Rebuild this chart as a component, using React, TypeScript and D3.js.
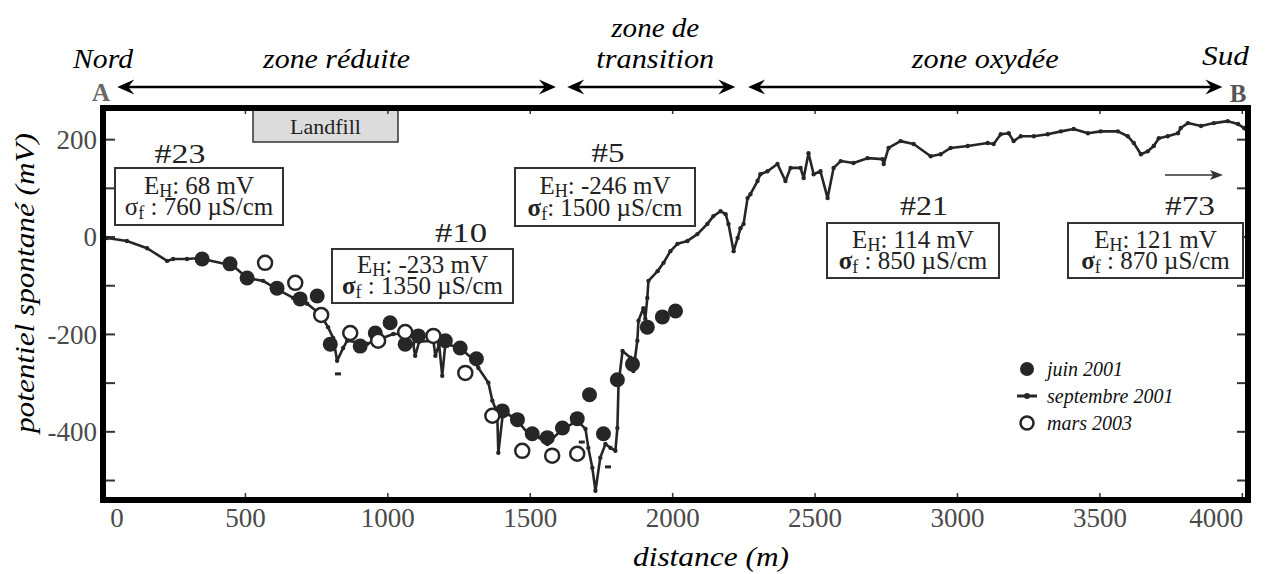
import React from "react";
import * as d3 from "d3";

// septembre 2001 : profil continu
const septDist = [
  0, 14, 84, 155, 225, 246, 295, 341, 351, 457,
  506, 562, 611, 668, 717, 762, 790, 808, 822, 843,
  857, 928, 1019, 1044, 1089, 1096, 1110, 1160, 1167, 1180,
  1191, 1202, 1254, 1297, 1318, 1353, 1367, 1384, 1388, 1405,
  1455, 1490, 1535, 1560, 1606, 1665, 1694, 1704, 1718, 1729,
  1746, 1764, 1782, 1799, 1806, 1810, 1824, 1852, 1862, 1876,
  1880, 1897, 1904, 1911, 1915, 1947, 1968, 1992, 2017, 2052,
  2087, 2122, 2143, 2168, 2186, 2196, 2214, 2228, 2238, 2249,
  2263, 2273, 2298, 2308, 2333, 2368, 2396, 2414, 2449, 2460,
  2477, 2495, 2519, 2544, 2565, 2590, 2635, 2684, 2737, 2741,
  2758, 2800, 2846, 2906, 2941, 2976, 3036, 3106, 3127, 3152,
  3180, 3197, 3222, 3268, 3317, 3363, 3408, 3458, 3503, 3563,
  3598, 3619, 3644, 3668, 3689, 3707, 3738, 3774, 3784, 3809,
  3855, 3900, 3949, 3985, 4006, 4020,
];
const septSP = [
  0, -2, -8, -23, -49, -45, -45, -43, -45, -59,
  -84, -90, -107, -125, -137, -158, -185, -207, -254, -228,
  -213, -219, -199, -199, -219, -244, -215, -213, -244, -220,
  -285, -219, -228, -250, -269, -299, -336, -361, -443, -357,
  -377, -402, -412, -425, -398, -377, -394, -433, -474, -521,
  -453, -425, -433, -439, -392, -302, -234, -248, -275, -213,
  -172, -146, -168, -125, -90, -70, -53, -29, -14, -8,
  6, 27, 43, 53, 47, 27, -29, -2, 18, 27,
  80, 88, 115, 129, 135, 150, 115, 142, 142, 121,
  172, 129, 135, 80, 142, 156, 152, 162, 160, 150,
  183, 197, 191, 166, 170, 183, 187, 193, 191, 211,
  213, 197, 207, 207, 211, 217, 222, 213, 217, 217,
  207, 193, 170, 176, 187, 203, 207, 213, 224, 234,
  228, 234, 238, 232, 224, 213,
];
// points isolés de septembre 2001
const septStrayDist = [825, 1681, 1773];
const septStraySP = [-281, -421, -472];

// juin 2001
const juinDist = [348, 446, 506, 611, 692, 752, 798, 903, 956, 1008, 1061, 1107, 1202, 1254, 1311, 1402, 1455, 1507, 1560, 1613, 1665, 1708, 1757, 1806, 1859, 1911, 1964, 2010];
const juinSP = [-45, -55, -84, -105, -127, -121, -220, -224, -197, -176, -220, -203, -213, -228, -250, -357, -375, -404, -412, -392, -373, -324, -404, -293, -261, -185, -164, -152];

// mars 2003
const marsDist = [569, 675, 766, 868, 966, 1061, 1160, 1272, 1367, 1472, 1577, 1665];
const marsSP = [-53, -94, -160, -197, -213, -195, -203, -279, -367, -439, -449, -445];

const xTicks = [0, 500, 1000, 1500, 2000, 2500, 3000, 3500, 4000];
const yTicks = [200, 0, -200, -400];
const yMinorTicks = [200, 100, 0, -100, -200, -300, -400, -500];

const zoneNames = ["zone réduite", "zone de|transition", "zone oxydée"];
const zoneStart = [50, 1630, 2265];
const zoneEnd = [1590, 2220, 3930];

const wellNames = ["#23", "#10", "#5", "#21", "#73"];
const wellEH = ["68", "-233", "-246", "114", "121"];
const wellSigma = ["760", "1350", "1500", "850", "870"];

const legendNames = ["juin 2001", "septembre 2001", "mars 2003"];

// mise en page (pixels)
const SERIF = "'Liberation Serif', Tinos, 'Times New Roman', Times, 'DejaVu Serif', 'Noto Serif', serif";
const FRAME = { left: 103, right: 1248, top: 108, bottom: 500 };
const INK = "#262626";
const boxes = [
  { x: 115, y: 168, w: 168, h: 57, numX: 180, numY: 163, numW: 51, colon: " :", bold: false },
  { x: 332, y: 249, w: 181, h: 54, numX: 461, numY: 242, numW: 52, colon: " :", bold: true },
  { x: 515, y: 168, w: 180, h: 58, numX: 608, numY: 162, numW: 33, colon: ":", bold: true },
  { x: 827, y: 223, w: 172, h: 55, numX: 924, numY: 215, numW: 48, colon: " :", bold: true },
  { x: 1068, y: 223, w: 175, h: 55, numX: 1190, numY: 215, numW: 50, colon: " :", bold: true },
];
const xLabelShift: Record<number, number> = { 0: 14, 4000: -26 };

function arrowHead(tx: number, ty: number, dir: number) {
  const l = 17, w = 7.5, n = 11;
  return `M${tx},${ty} L${tx - dir * l},${ty - w} L${tx - dir * n},${ty} L${tx - dir * l},${ty + w} Z`;
}

function T(props: any) {
  const { style, ...rest } = props;
  return <text {...rest} style={{ fontFamily: SERIF, ...(style || {}) }} />;
}

export default function App() {
  const x = d3.scaleLinear().domain([0, 4020]).range([FRAME.left, FRAME.right]);
  const y = d3.scaleLinear().domain([-540, 265]).range([FRAME.bottom, FRAME.top]);

  const sept: [number, number][] = septDist.map((d, i) => [d, septSP[i]]);
  const line = d3.line<[number, number]>().x((d) => x(d[0])).y((d) => y(d[1]));

  const arrowY = 87;

  return (
    <div style={{ position: "fixed", left: 0, top: 0 }}>
      <svg width={1267} height={574} style={{ display: "block", background: "#fff" }}>
        {/* zones en haut */}
        {zoneNames.map((name, i) => {
          const x0 = x(zoneStart[i]);
          const x1 = x(zoneEnd[i]);
          const cx = (x0 + x1) / 2;
          const parts = name.split("|");
          return (
            <g key={name}>
              <line x1={x0 + 8} x2={x1 - 8} y1={arrowY} y2={arrowY} stroke="#000" strokeWidth={2.5} />
              <path d={arrowHead(x0, arrowY, -1)} fill="#000" />
              <path d={arrowHead(x1, arrowY, 1)} fill="#000" />
              {parts.length === 1 ? (
                <T x={cx} y={68} textAnchor="middle" fontSize={28} fontStyle="italic" textLength={147} lengthAdjust="spacingAndGlyphs">
                  {name}
                </T>
              ) : (
                <>
                  <T x={cx + 4} y={37} textAnchor="middle" fontSize={28} fontStyle="italic" textLength={88} lengthAdjust="spacingAndGlyphs">
                    {parts[0]}
                  </T>
                  <T x={cx + 4} y={68} textAnchor="middle" fontSize={28} fontStyle="italic" textLength={118} lengthAdjust="spacingAndGlyphs">
                    {parts[1]}
                  </T>
                </>
              )}
            </g>
          );
        })}
        <T x={73} y={68} fontSize={28} fontStyle="italic" textLength={60} lengthAdjust="spacingAndGlyphs">Nord</T>
        <T x={1202} y={65} fontSize={28} fontStyle="italic" textLength={47} lengthAdjust="spacingAndGlyphs">Sud</T>
        <T x={101} y={101} textAnchor="middle" fontSize={25} fontWeight="bold" fill="#666">A</T>
        <T x={1238} y={102} textAnchor="middle" fontSize={25} fontWeight="bold" fill="#555">B</T>

        {/* Landfill */}
        <rect x={253} y={110} width={145} height={32} fill="#dcdcdc" stroke="#333" strokeWidth={1.5} />
        <T x={325.5} y={134} textAnchor="middle" fontSize={22} fill="#222">Landfill</T>

        {/* ticks */}
        {yMinorTicks.map((v) => (
          <g key={"yt" + v}>
            <line x1={FRAME.left} x2={FRAME.left + 12} y1={y(v)} y2={y(v)} stroke="#333" strokeWidth={2} />
            <line x1={FRAME.right - 11} x2={FRAME.right} y1={y(v)} y2={y(v)} stroke="#333" strokeWidth={2} />
          </g>
        ))}
        {xTicks.map((v) => (
          <g key={"xt" + v}>
            <line x1={x(v)} x2={x(v)} y1={FRAME.bottom} y2={FRAME.bottom - 7} stroke="#333" strokeWidth={1.5} />
            <line x1={x(v)} x2={x(v)} y1={FRAME.top} y2={FRAME.top + 6} stroke="#333" strokeWidth={1.5} />
          </g>
        ))}
        {yTicks.map((v) => (
          <T key={"yl" + v} x={97} y={y(v)} dy="0.34em" textAnchor="end" fontSize={27} fill="#4a4a4a">
            {v}
          </T>
        ))}
        {xTicks.map((v) => (
          <T key={"xl" + v} x={x(v) + (xLabelShift[v] || 0)} y={527} textAnchor="middle" fontSize={27} fill="#4a4a4a">
            {v}
          </T>
        ))}

        {/* axis titles */}
        <T transform="translate(34,283) rotate(-90)" textAnchor="middle" fontSize={28} fontStyle="italic" textLength={300} lengthAdjust="spacingAndGlyphs">
          potentiel spontané (mV)
        </T>
        <T x={711} y={566} textAnchor="middle" fontSize={28} fontStyle="italic" textLength={156} lengthAdjust="spacingAndGlyphs">
          distance (m)
        </T>

        {/* septembre 2001 */}
        <path d={line(sept) || ""} fill="none" stroke={INK} strokeWidth={2.6} strokeLinejoin="round" />
        {sept.map((d, i) => (
          <circle key={"s" + i} cx={x(d[0])} cy={y(d[1])} r={2.2} fill={INK} />
        ))}
        {septStrayDist.map((d, i) => (
          <rect key={"ss" + i} x={x(d) - 3} y={y(septStraySP[i]) - 1.5} width={6} height={3} fill={INK} />
        ))}

        {/* juin 2001 */}
        {juinDist.map((d, i) => (
          <circle key={"j" + i} cx={x(d)} cy={y(juinSP[i])} r={7.5} fill={INK} />
        ))}
        {/* mars 2003 */}
        {marsDist.map((d, i) => (
          <circle key={"m" + i} cx={x(d)} cy={y(marsSP[i])} r={7} fill="#fff" stroke={INK} strokeWidth={2.5} />
        ))}

        {/* well boxes */}
        {boxes.map((b, i) => {
          const cx = b.x + b.w / 2;
          const l1 = b.y + b.h * 0.43 + 1;
          const l2 = b.y + b.h * 0.83;
          return (
            <g key={wellNames[i]}>
              <T x={b.numX} y={b.numY} textAnchor="middle" fontSize={28} fill="#222" textLength={b.numW} lengthAdjust="spacingAndGlyphs">
                {wellNames[i]}
              </T>
              <rect x={b.x} y={b.y} width={b.w} height={b.h} fill="#fff" stroke="#333" strokeWidth={2} />
              <T x={cx} y={l1} textAnchor="middle" fontSize={25} fill="#222">
                E<tspan fontSize={18} dy={3}>H</tspan>
                <tspan dy={-3}>{": " + wellEH[i] + " mV"}</tspan>
              </T>
              <T x={cx} y={l2} textAnchor="middle" fontSize={25} fill="#222">
                <tspan fontWeight={b.bold ? "bold" : "normal"}>σ</tspan>
                <tspan fontSize={18} dy={4}>f</tspan>
                <tspan dy={-4}>{b.colon + " " + wellSigma[i] + " µS/cm"}</tspan>
              </T>
            </g>
          );
        })}
        {/* flèche #73 */}
        <line x1={1165} x2={1214} y1={175} y2={175} stroke="#333" strokeWidth={1.5} />
        <path d="M1223,175 L1210,170 L1213,175 L1210,180 Z" fill="#333" />

        {/* legend */}
        {legendNames.map((name, i) => {
          const cy = 369 + i * 27;
          return (
            <g key={name}>
              {i === 0 && <circle cx={1027} cy={cy} r={7} fill={INK} />}
              {i === 1 && (
                <>
                  <line x1={1017} x2={1037} y1={cy} y2={cy} stroke={INK} strokeWidth={3} />
                  <circle cx={1027} cy={cy} r={3} fill={INK} />
                </>
              )}
              {i === 2 && <circle cx={1027} cy={cy} r={6.5} fill="#fff" stroke={INK} strokeWidth={2.5} />}
              <T x={1047} y={cy + 7} fontSize={20} fontStyle="italic" fill="#111">
                {name}
              </T>
            </g>
          );
        })}

        {/* frame */}
        <rect x={FRAME.left} y={FRAME.top} width={FRAME.right - FRAME.left} height={FRAME.bottom - FRAME.top} fill="none" stroke="#000" strokeWidth={6} />
      </svg>
    </div>
  );
}
